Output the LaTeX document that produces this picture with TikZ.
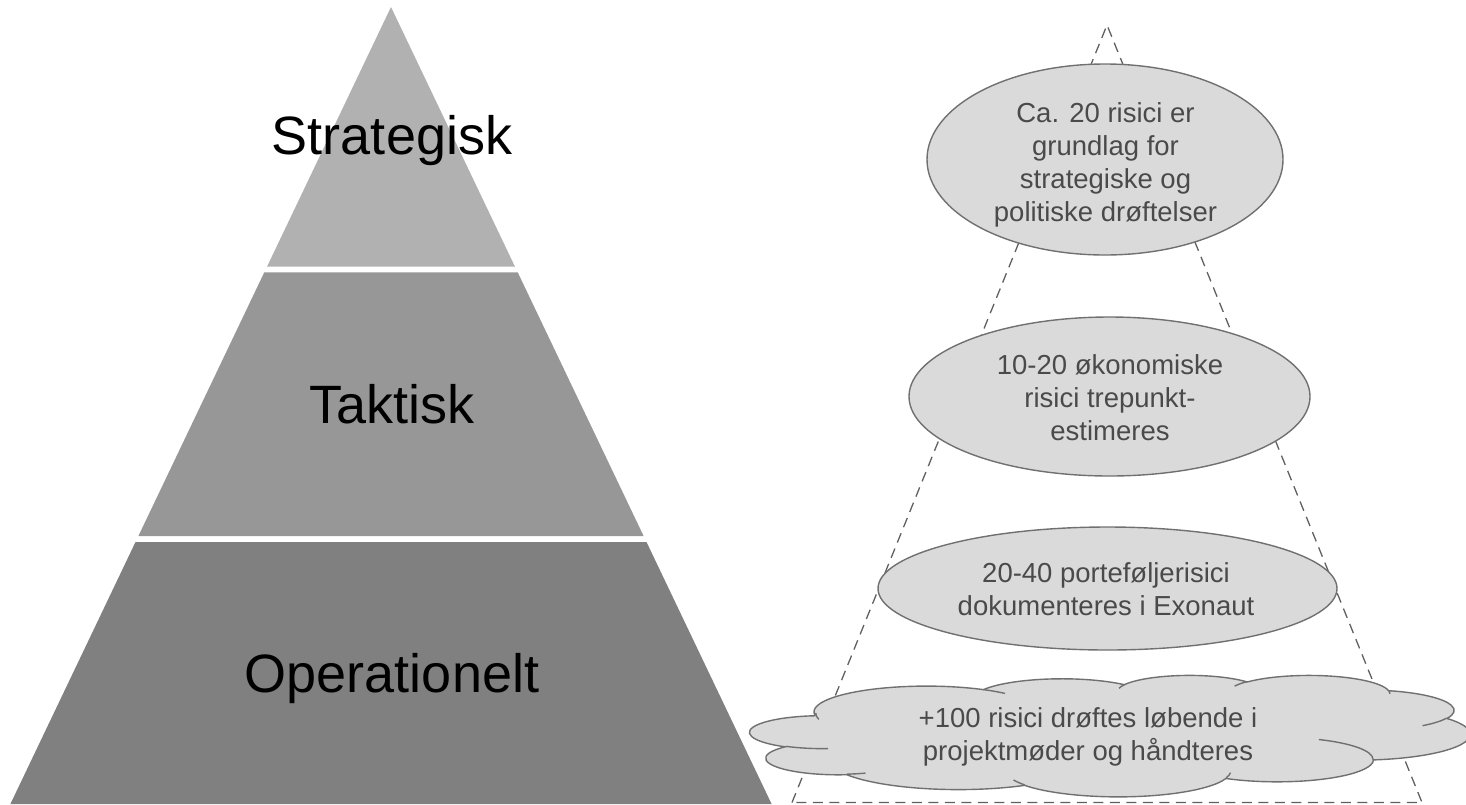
\documentclass[tikz,border=0pt]{standalone}
\usepackage{fontspec}
\setmainfont{Liberation Sans}
\usetikzlibrary{shapes.geometric}

\definecolor{tierA}{RGB}{177,177,177}
\definecolor{tierB}{RGB}{151,151,151}
\definecolor{tierC}{RGB}{128,128,128}
\definecolor{bubble}{RGB}{218,218,218}
\definecolor{rim}{RGB}{112,112,112}
\definecolor{ink}{RGB}{74,74,74}
\definecolor{guide}{RGB}{96,96,96}

% Elliptic arc given by radii, visual start angle and sweep (degrees),
% converted to the parametric angles that TikZ uses.
\newcommand\cloudarc[4]{arc[x radius=#1, y radius=#2,
  start angle={atan2(#1*sin(#3),#2*cos(#3))},
  delta angle={mod(atan2(#1*sin(#3+#4),#2*cos(#3+#4))-atan2(#1*sin(#3),#2*cos(#3))+720,360)}]}

\tikzset{
  tierlabel/.style={font=\fontsize{54}{60}\selectfont, text=black, inner sep=0pt, anchor=base},
  bub/.style={ellipse, draw=rim, fill=bubble, line width=1.4pt, inner sep=0pt},
  note/.style={font=\fontsize{27.5}{33}\selectfont, text=ink, align=center, inner sep=0pt},
  guideline/.style={draw=guide, line width=1.3pt, dash pattern=on 10pt off 6.5pt},
  cloudline/.style={draw=rim, line width=1.4pt},
}

\begin{document}
\begin{tikzpicture}[x=1pt, y=-1pt]
\useasboundingbox (0,0) rectangle (1466,804);

% stepped pyramid on the left
\fill[tierA] (391,7) -- (515.0,266.7) -- (267.0,266.7) -- cycle;
\fill[tierB] (264.3,272.3) -- (517.7,272.3) -- (643.6,536) -- (138.4,536) -- cycle;
\fill[tierC] (135.5,542) -- (646.5,542) -- (771.6,804) -- (10.4,804) -- cycle;

\node[tierlabel] (strat) at (392,154) {Strategisk};
\node[tierlabel] (takt)  at (392,423) {Taktisk};
\node[tierlabel] (oper)  at (392,692) {Operationelt};

% dashed outline pyramid on the right
\coordinate (apex) at (1107,25);
\coordinate (baseL) at (792,802.5);
\coordinate (baseR) at (1422,802.5);
\draw[guideline, line join=miter] (baseL) -- (apex) -- (baseR) -- cycle;

% ellipses
\node[bub, minimum width=356pt, minimum height=191pt] (e1) at (1105,159.5) {};
\node[bub, minimum width=401pt, minimum height=159pt] (e2) at (1109.5,396.5) {};
\node[bub, minimum width=459pt, minimum height=123pt] (e3) at (1107.5,588.5) {};

\node[note] (t1) at (1105.5,164.4) {Ca. 20 risici er\\grundlag for\\strategiske og\\politiske drøftelser};
\node[note] (t2) at (1110,397.5) {10-20 økonomiske\\risici trepunkt-\\estimeres};
\node[note] (t3) at (1106,589.5) {20-40 porteføljerisici\\dokumenteres i Exonaut};

% cloud, drawn in a 4320 x 4320 unit frame stretched over its box
\begin{scope}[shift={(750,675)}, x=0.166667pt, y=-0.0281pt]
  \filldraw[cloudline, fill=bubble] (390,1437)
    \cloudarc{675.3}{919.0}{-190.4875}{123.7805}
    \cloudarc{533.3}{726.7}{-144.1024}{89.9452}
    \cloudarc{436.5}{594.5}{-145.8079}{99.7230}
    \cloudarc{485.7}{659.5}{-130.9861}{117.2417}
    \cloudarc{533.3}{727.3}{-78.7089}{109.0269}
    \cloudarc{677.5}{922.0}{-46.2673}{130.2690}
    \cloudarc{578.5}{786.7}{0.6250}{114.0333}
    \cloudarc{675.2}{921.5}{22.4516}{115.1726}
    \cloudarc{772.0}{1054.3}{66.2426}{75.7110}
    \cloudarc{436.0}{591.8}{-274.9421}{146.7356}
    \cloudarc{434.5}{594.5}{-246.8285}{152.5189}
    -- cycle;
  \draw[cloudline]
    (469.3,2617.7) \cloudarc{434.5}{594.5}{86.7420}{26.4295}
    (692.8,3489.9) \cloudarc{436.0}{591.8}{73.6105}{11.4475}
    (1647.8,3909.0) \cloudarc{675.2}{921.5}{137.6242}{14.0811}
    (2882.7,3475.1) \cloudarc{675.2}{921.5}{6.4533}{15.9984}
    (3412.9,2295.4) \cloudarc{578.5}{786.7}{-70.2924}{70.9174}
    (4179.8,1535.4) \cloudarc{533.3}{727.3}{30.3180}{27.7515}
    (3832.4,542.6) \cloudarc{485.7}{659.5}{-13.7443}{14.8589}
    (2907.8,395.2) \cloudarc{485.7}{659.5}{-149.1815}{18.1954}
    (2214.1,472.0) \cloudarc{436.5}{594.5}{-163.4943}{17.6864}
    (1400.0,519.2) \cloudarc{675.3}{919.0}{-66.7070}{12.3194}
    (412.7,1578.9) \cloudarc{675.3}{919.0}{162.0485}{19.4247};
\end{scope}

\node[note] (t4) at (1088,737) {+100 risici drøftes løbende i\\projektmøder og håndteres};
\end{tikzpicture}
\end{document}
